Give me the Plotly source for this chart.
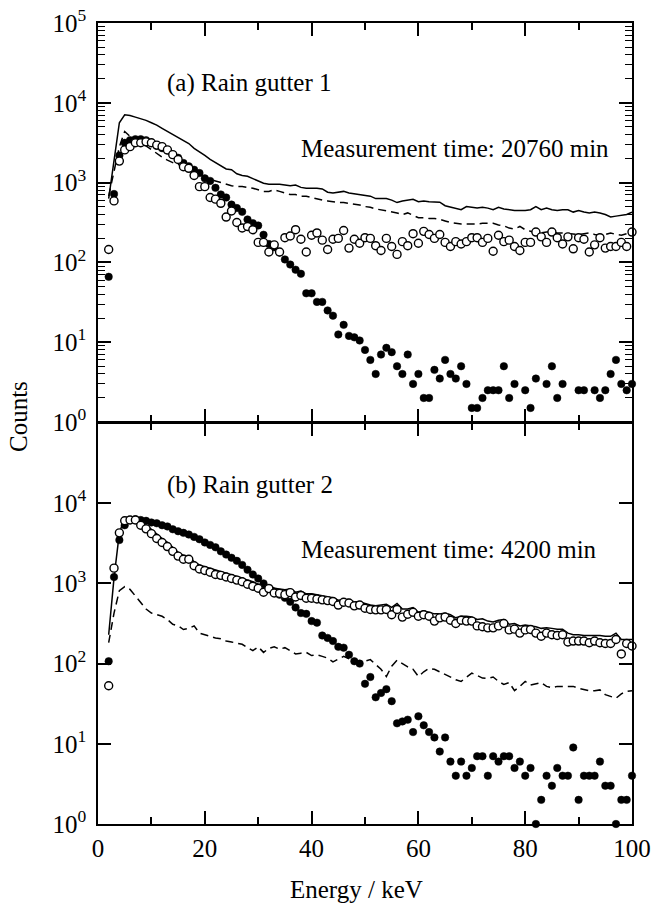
import plotly.graph_objects as go

# Energy bins (keV)
energy = list(range(2, 101))

# ---------- (a) Rain gutter 1 ----------
a_filled = [66, 720, 2180, 3150, 3400, 3500, 3500, 3400, 3150, 2900,
            2700, 2520, 2230, 2050, 1760, 1600, 1450, 1320, 1130, 1050,
            860, 710, 650, 530, 480, 430, 345, 310, 290, 222,
            170, 155, 133, 109, 94, 81, 72, 41, 41, 32,
            32, 25, 21.5, 12.5, 16.5, 12, 11.5, 10.5, 8, 6,
            4, 7, 8.5, 7.5, 5, 4, 7, 3, 4, 2,
            2, 4.5, 3.5, 6, 4, 3.5, 5, 3, 1.5, 1.5,
            2, 2.5, 2.5, 2.5, 5, 2, 3, None, 2.5, 1.5,
            3.5, None, 3, 5, 2, 3, None, None, 2.5, 2.5,
            None, 2.5, 2, 2.5, 4, 6, 3, 2.5, 3]
a_open = [145, 590, 1860, 2570, 2820, 3160, 3160, 3240, 3160, 2950,
          2820, 2570, 2240, 1950, 1580, 1510, 1230, 890, 890, 650,
          620, 550, 370, 440, 316, 270, 282, 257, 178, 178,
          135, 166, 135, 204, 214, 257, 195, 135, 219, 234,
          190, 145, 195, 200, 251, 151, 195, 174, 204, 200,
          162, 141, 200, 158, 126, 182, 162, 229, 174, 245,
          224, 200, 224, 178, 158, 182, 170, 182, 204, 204,
          178, 200, 138, 219, 182, 190, 158, 141, 178, 178,
          240, 209, 178, 240, 204, 170, 209, 148, 204, 195,
          135, 166, 204, 151, 158, 158, 178, 158, 240]
a_solid = [630, 1950, 5620, 7080, 6920, 6610, 6310, 6030, 5620, 5250,
           4790, 4370, 4070, 3720, 3390, 3090, 2690, 2450, 2190, 1950,
           1780, 1620, 1480, 1450, 1290, 1230, 1200, 1120, 1050, 980,
           955, 955, 955, 933, 912, 933, 871, 851, 851, 851,
           832, 759, 741, 759, 776, 741, 724, 708, 692, 676,
           631, 631, 631, 603, 562, 589, 603, 617, 575, 589,
           575, 575, 569, 513, 490, 468, 457, 501, 490, 479,
           490, 479, 457, 490, 468, 457, 447, 447, 447, 457,
           501, 457, 479, 457, 447, 457, 457, 427, 447, 427,
           417, 427, 417, 398, 372, 380, 389, 398, 427]
a_dashed = [676, 1320, 2820, 4370, 3800, 3630, 3310, 2880, 2570, 2290,
            2090, 1910, 1780, 1700, 1510, 1450, 1350, 1260, 1170, 1100,
            1050, 1000, 955, 912, 891, 891, 871, 851, 813, 776,
            776, 813, 776, 741, 708, 708, 676, 676, 646, 631,
            603, 589, 575, 562, 562, 550, 537, 525, 501, 490,
            468, 457, 437, 427, 417, 398, 417, 389, 363, 363,
            355, 355, 347, 331, 316, 309, 302, 302, 302, 302,
            309, 309, 309, 295, 288, 269, 263, 282, 257, 245,
            234, 234, 240, 240, 234, 234, 229, 224, 224, 229,
            234, 224, 219, 224, 234, 224, 219, 229, 251]

# ---------- (b) Rain gutter 2 ----------
b_filled = [107, 1200, 3470, 5310, 6170, 6310, 6170, 6030, 5750, 5620,
            5310, 5130, 4730, 4470, 4270, 4070, 3800, 3550, 3240, 3020,
            2820, 2510, 2290, 2090, 1910, 1700, 1480, 1290, 1150, 1000,
            881, 794, 724, 661, 589, 501, 427, 417, 339, 324,
            224, 209, 191, 162, 158, 129, 107, 100, 56, 68,
            38, 43, 48, 34, 18, 19, 20, 14, 22, 17,
            14, 12, 8, 12, 6, 4, 6, 4, 5, 7,
            7, 4, 7, 6, 7, 7, 5, 6, 4, 5,
            1, 2, 4, 3, 5, 4, 4, 9, 2, 4,
            4, 4, 6, 3, 3, 1, 2, 2, 4]
b_open = [53, 1550, 4270, 6030, 6170, 6170, 5310, 4790, 4170, 3630,
          3240, 2880, 2510, 2190, 2000, 2000, 1660, 1510, 1450, 1380,
          1290, 1260, 1200, 1150, 1100, 1050, 977, 923, 871, 776,
          861, 759, 750, 724, 767, 676, 708, 653, 653, 638,
          624, 610, 596, 537, 582, 569, 525, 537, 490, 473,
          468, 468, 473, 407, 473, 380, 412, 437, 389, 407,
          389, 339, 372, 380, 347, 316, 347, 339, 339, 295,
          288, 279, 279, 295, 316, 263, 269, 240, 263, 266,
          240, 219, 240, 229, 224, 229, 186, 191, 191, 191,
          182, 191, 182, 178, 178, 200, 132, 178, 166]
b_solid = [229, 1170, 4270, 6610, 6760, 6760, 6170, 5370, 4680, 4070,
           3630, 3240, 2820, 2450, 2240, 2190, 1860, 1700, 1620, 1550,
           1450, 1410, 1350, 1290, 1230, 1170, 1100, 1050, 977, 891,
           955, 871, 851, 832, 851, 776, 804, 741, 741, 724,
           708, 684, 661, 617, 631, 631, 589, 589, 562, 537,
           525, 537, 550, 501, 562, 479, 479, 501, 437, 457,
           437, 417, 417, 427, 407, 372, 389, 389, 380, 355,
           363, 339, 331, 347, 355, 309, 316, 295, 302, 295,
           288, 275, 279, 275, 269, 269, 240, 229, 229, 224,
           224, 224, 224, 219, 219, 240, 200, 200, 200]
b_dashed = [182, 427, 813, 912, 841, 692, 575, 479, 427, 407,
            389, 355, 309, 295, 266, 275, 295, 240, 229, 219,
            209, 204, 191, 186, 178, 174, 158, 145, 162, 138,
            155, 162, 151, 158, 145, 132, 135, 138, 126, 129,
            123, 117, 105, 115, 123, 115, 112, 105, 107, 112,
            98, 85, 69, 93, 110, 100, 91, 85, 69, 79,
            87, 85, 79, 72, 68, 63, 60, 68, 76, 71,
            66, 65, 68, 60, 55, 58, 46, 52, 60, 54,
            56, 58, 52, 50, 52, 52, 52, 52, 49, 47,
            46, 46, 47, 41, 39, 37, 42, 45, 46]

# tick labels
x_ticks = [0, 20, 40, 60, 80, 100]
x_ticktext = ["0", "20", "40", "60", "80", "100"]
y_ticks_a = [1, 10, 100, 1000, 10000, 100000]
y_ticktext_a = ["10<sup>0</sup>", "10<sup>1</sup>", "10<sup>2</sup>",
                "10<sup>3</sup>", "10<sup>4</sup>", "10<sup>5</sup>"]
y_ticks_b = [1, 10, 100, 1000, 10000]
y_ticktext_b = ["10<sup>0</sup>", "10<sup>1</sup>", "10<sup>2</sup>",
                "10<sup>3</sup>", "10<sup>4</sup>"]
y_minor_a = [m * 10 ** d for d in range(0, 5) for m in range(2, 10)]

FONT = "Liberation Serif"
W = 656
H = 905
ML, MR, MT, MB = 98, 24, 23, 81

fig = go.Figure()


def add_panel(xa, ya, solid, dashed, filled, opened):
    fig.add_trace(go.Scatter(x=energy, y=solid, mode="lines", xaxis=xa, yaxis=ya,
                             line=dict(color="black", width=1.5), hoverinfo="skip"))
    fig.add_trace(go.Scatter(x=energy, y=dashed, mode="lines", xaxis=xa, yaxis=ya,
                             line=dict(color="black", width=1.5, dash="8px,5px"),
                             hoverinfo="skip"))
    fig.add_trace(go.Scatter(x=energy, y=filled, mode="markers", xaxis=xa, yaxis=ya,
                             cliponaxis=False,
                             marker=dict(symbol="circle", size=7.5, color="black",
                                         line=dict(color="black", width=0.5))))
    fig.add_trace(go.Scatter(x=energy, y=opened, mode="markers", xaxis=xa, yaxis=ya,
                             cliponaxis=False,
                             marker=dict(symbol="circle", size=8, color="white",
                                         line=dict(color="black", width=1.4))))


add_panel("x", "y", a_solid, a_dashed, a_filled, a_open)
add_panel("x2", "y2", b_solid, b_dashed, b_filled, b_open)

tickfont = dict(family=FONT, size=25, color="black")
ph = H - MT - MB
split_top = 402 / ph
split_bot = 401 / ph

xcommon = dict(range=[0, 100], showline=True, linewidth=1.5, linecolor="black",
               mirror="allticks", ticks="inside", ticklen=13, tickwidth=1.5,
               tickcolor="black", tickvals=x_ticks, ticktext=x_ticktext,
               showgrid=False, zeroline=False, tickfont=tickfont,
               ticklabelstandoff=1, automargin=False,
               minor=dict(ticks="inside", ticklen=7, tickwidth=1.5,
                          tickcolor="black", dtick=10, showgrid=False))

fig.update_layout(
    width=W, height=H,
    margin=dict(l=ML, r=MR, t=MT, b=MB, autoexpand=False),
    paper_bgcolor="white", plot_bgcolor="white",
    showlegend=False,
    font=dict(family=FONT, size=25, color="black"),
    xaxis=dict(anchor="y", showticklabels=False, **xcommon),
    xaxis2=dict(anchor="y2", matches="x", showticklabels=True, **xcommon),
    yaxis=dict(domain=[split_top, 1], anchor="x", type="log", range=[0, 5],
               showline=True, linewidth=1.5, linecolor="black", mirror="allticks",
               ticks="inside", ticklen=13, tickwidth=1.5, tickcolor="black",
               tickvals=y_ticks_a, ticktext=y_ticktext_a, tickfont=tickfont,
               ticklabelstandoff=5, showgrid=False, zeroline=False, automargin=False,
               minor=dict(ticks="inside", ticklen=7, tickwidth=1.2,
                          tickcolor="black", tickvals=y_minor_a, showgrid=False)),
    yaxis2=dict(domain=[0, split_bot], anchor="x2", type="log", range=[0, 5],
                showline=True, linewidth=1.5, linecolor="black", mirror="allticks",
                ticks="inside", ticklen=13, tickwidth=1.5, tickcolor="black",
                tickvals=y_ticks_b, ticktext=y_ticktext_b, tickfont=tickfont,
                ticklabelstandoff=5, showgrid=False, zeroline=False, automargin=False),
)

pw = W - ML - MR


def px(x):
    return (x - ML) / pw


def py(y):
    return (H - MB - y) / ph


ann_font = dict(family=FONT, size=25, color="black")
annotations = [
    dict(text="(a) Rain gutter 1", x=px(165), y=py(83), xanchor="left", yanchor="middle"),
    dict(text="Measurement time: 20760 min", x=px(299), y=py(148), xanchor="left", yanchor="middle"),
    dict(text="(b) Rain gutter 2", x=px(165), y=py(485), xanchor="left", yanchor="middle"),
    dict(text="Measurement time: 4200 min", x=px(299), y=py(549), xanchor="left", yanchor="middle"),
    dict(text="Energy / keV", x=px(356), y=py(889), xanchor="center", yanchor="middle"),
    dict(text="Counts", x=px(18), y=py(417), xanchor="center", yanchor="middle", textangle=-90),
]
for a in annotations:
    fig.add_annotation(xref="paper", yref="paper", showarrow=False, font=ann_font, **a)

fig.write_html("out.html", config={"displayModeBar": False},
               post_script="document.body.style.margin='0px';document.body.style.padding='0px';")
